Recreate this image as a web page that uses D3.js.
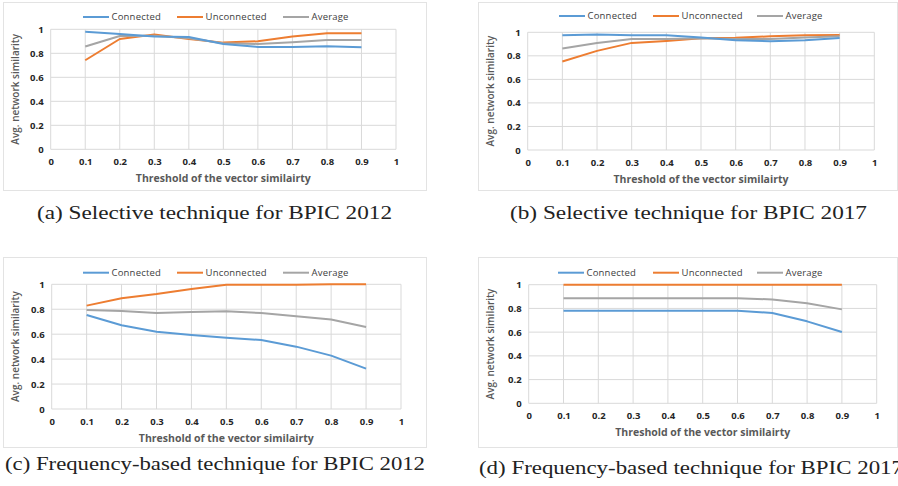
<!DOCTYPE html>
<html>
<head>
<meta charset="utf-8">
<script src="https://cdn.jsdelivr.net/npm/d3@7"></script>
<style>
  body { margin: 0; background: #fff; }
  svg { display: block; }
  .tick text { font-family: "Open Sans", sans-serif; font-weight: bold; font-size: 9.5px; fill: #262626; }
  .legend text { font-family: "Open Sans", sans-serif; font-size: 9.5px; fill: #404040; letter-spacing: 0.2px; }
  .caption { font-family: "Liberation Serif", serif; font-size: 18px; fill: #222; }
</style>
</head>
<body>
<script>
var width = 898, height = 486

// data
var thresholds = [0.1, 0.2, 0.3, 0.4, 0.5, 0.6, 0.7, 0.8, 0.9]
var xTicks = [0, 0.1, 0.2, 0.3, 0.4, 0.5, 0.6, 0.7, 0.8, 0.9, 1]
var yTicks = [0, 0.2, 0.4, 0.6, 0.8, 1]
var seriesNames = ["Connected", "Unconnected", "Average"]
var seriesColors = ["#5b9bd5", "#ed7d31", "#a5a5a5"]
var drawOrder = [1, 2, 0]

var sel2012Connected   = [0.98, 0.96, 0.94, 0.935, 0.878, 0.853, 0.853, 0.858, 0.85]
var sel2012Unconnected = [0.742, 0.919, 0.956, 0.919, 0.889, 0.90, 0.94, 0.967, 0.967]
var sel2012Average     = [0.856, 0.944, 0.947, 0.925, 0.883, 0.878, 0.892, 0.911, 0.911]

var sel2017Connected   = [0.975, 0.982, 0.975, 0.975, 0.955, 0.932, 0.924, 0.932, 0.952]
var sel2017Unconnected = [0.752, 0.842, 0.91, 0.927, 0.95, 0.953, 0.966, 0.975, 0.978]
var sel2017Average     = [0.862, 0.91, 0.944, 0.944, 0.95, 0.944, 0.944, 0.956, 0.966]

var freq2012Connected   = [0.754, 0.671, 0.62, 0.594, 0.572, 0.553, 0.50, 0.428, 0.324]
var freq2012Unconnected = [0.829, 0.888, 0.922, 0.963, 0.997, 0.997, 0.997, 1.0, 1.0]
var freq2012Average     = [0.794, 0.786, 0.77, 0.778, 0.783, 0.77, 0.743, 0.717, 0.658]

var freq2017Connected   = [0.781, 0.781, 0.781, 0.781, 0.781, 0.781, 0.761, 0.691, 0.601]
var freq2017Unconnected = [1, 1, 1, 1, 1, 1, 1, 1, 1]
var freq2017Average     = [0.885, 0.885, 0.885, 0.885, 0.885, 0.885, 0.876, 0.843, 0.792]

var captions = [
    "(a) Selective technique for BPIC 2012",
    "(b) Selective technique for BPIC 2017",
    "(c) Frequency-based technique for BPIC 2012",
    "(d) Frequency-based technique for BPIC 2017"
]

// layout of the four panels
var panels = [
    {series: [sel2012Connected, sel2012Unconnected, sel2012Average],
     frame: [3, 2, 423, 188], plot: [50.7, 396, 29.3, 149.3], legend: [83, 177, 283], legendY: 17,
     cap: [37, 219, 355]},
    {series: [sel2017Connected, sel2017Unconnected, sel2017Average],
     frame: [478, 2, 419, 188], plot: [527.7, 874.3, 32.3, 150], legend: [559, 653, 757], legendY: 16,
     cap: [510, 219, 357]},
    {series: [freq2012Connected, freq2012Unconnected, freq2012Average],
     frame: [3, 257, 423, 190], plot: [51.7, 401, 284.3, 409], legend: [83, 177, 283], legendY: 272.7,
     cap: [5, 470, 420]},
    {series: [freq2017Connected, freq2017Unconnected, freq2017Average],
     frame: [478, 257, 419, 190], plot: [528.7, 876.7, 284.7, 403.3], legend: [558, 653, 757], legendY: 272.7,
     cap: [479, 474, 424]}
]

var svg = d3.select("body").append("svg")
    .attr("width", width)
    .attr("height", height)

var tickFmt = function (d) { return String(+d.toFixed(1)) }

panels.forEach(function (p, i) {
    var g = svg.append("g")

    g.append("rect")
        .attr("x", p.frame[0] + 0.5)
        .attr("y", p.frame[1] + 0.5)
        .attr("width", p.frame[2])
        .attr("height", p.frame[3])
        .attr("fill", "#fff")
        .attr("stroke", "#e3e3e3")

    var x = d3.scaleLinear().domain([0, 1]).range([p.plot[0], p.plot[1]])
    var y = d3.scaleLinear().domain([0, 1]).range([p.plot[3], p.plot[2]])

    // gridlines
    g.append("g").selectAll("line")
        .data(yTicks)
        .enter().append("line")
        .attr("x1", x(0)).attr("x2", x(1))
        .attr("y1", y).attr("y2", y)
        .attr("stroke", "#d9d9d9")
    g.append("g").selectAll("line")
        .data(xTicks)
        .enter().append("line")
        .attr("x1", x).attr("x2", x)
        .attr("y1", y(0)).attr("y2", y(1))
        .attr("stroke", "#d9d9d9")

    var xAxis = g.append("g")
        .attr("transform", "translate(0," + y(0) + ")")
        .call(d3.axisBottom(x).tickValues(xTicks).tickSize(0).tickPadding(9).tickFormat(tickFmt))
    xAxis.select(".domain").remove()

    var yAxis = g.append("g")
        .attr("transform", "translate(" + x(0) + ",0)")
        .call(d3.axisLeft(y).tickValues(yTicks).tickSize(0).tickPadding(7).tickFormat(tickFmt))
    yAxis.select(".domain").remove()

    var line = d3.line()
        .x(function (d, j) { return x(thresholds[j]) })
        .y(function (d) { return y(d) })

    // Connected drawn last so it sits on top like the original
    drawOrder.forEach(function (s) {
        g.append("path")
            .datum(p.series[s])
            .attr("fill", "none")
            .attr("stroke", seriesColors[s])
            .attr("stroke-width", 2)
            .attr("stroke-linejoin", "round")
            .attr("d", line)
    })

    // legend
    var legend = g.append("g").attr("class", "legend")
    seriesNames.forEach(function (name, s) {
        legend.append("line")
            .attr("x1", p.legend[s]).attr("x2", p.legend[s] + 26)
            .attr("y1", p.legendY).attr("y2", p.legendY)
            .attr("stroke", seriesColors[s])
            .attr("stroke-width", 2)
        legend.append("text")
            .attr("x", p.legend[s] + 28.5)
            .attr("y", p.legendY + 3.3)
            .text(name)
    })

    // axis titles
    g.append("text")
        .attr("x", (p.plot[0] + p.plot[1]) / 2)
        .attr("y", y(0) + 33)
        .attr("text-anchor", "middle")
        .style("font-family", "Open Sans, sans-serif")
        .style("font-weight", "bold")
        .style("font-size", "10.5px")
        .style("fill", "#595959")
        .text("Threshold of the vector similairty")

    g.append("text")
        .attr("transform", "translate(" + (p.frame[0] + 16) + "," + (p.plot[2] + p.plot[3]) / 2 + ") rotate(-90)")
        .attr("text-anchor", "middle")
        .style("font-family", "Open Sans, sans-serif")
        .style("font-weight", "600")
        .style("font-size", "10px")
        .style("fill", "#595959")
        .text("Avg. network similarity")

    svg.append("text")
        .attr("class", "caption")
        .attr("x", p.cap[0])
        .attr("y", p.cap[1])
        .attr("textLength", p.cap[2])
        .attr("lengthAdjust", "spacingAndGlyphs")
        .text(captions[i])
})
</script>
</body>
</html>
